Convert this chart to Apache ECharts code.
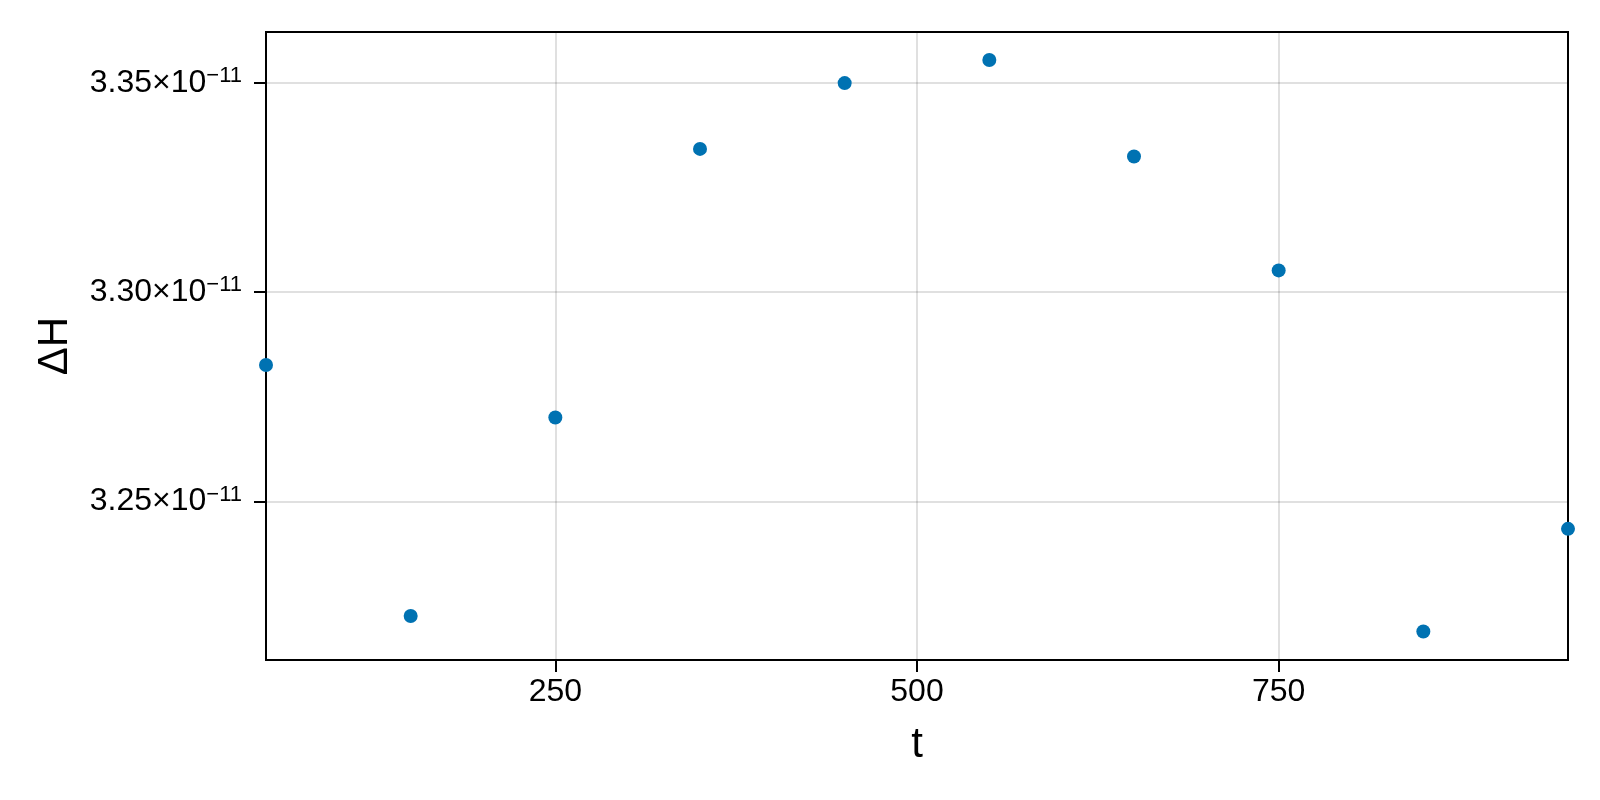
<!DOCTYPE html>
<html>
<head>
<meta charset="utf-8">
<title>ΔH vs t</title>
<script src="https://cdn.jsdelivr.net/npm/echarts@6/dist/echarts.min.js"></script>
<style>
  html, body { margin: 0; padding: 0; background: #fff; }
  #main { width: 1600px; height: 800px; }
</style>
</head>
<body>
<div id="main"></div>
<script>
// values, ΔH in units of 1e-11
var tValues = [50, 150, 250, 350, 450, 550, 650, 750, 850, 950];
var dHValues = [3.2826, 3.2227, 3.2701, 3.3342, 3.3499, 3.3554, 3.3324, 3.3052, 3.2190, 3.2435];
var xTicks = [250, 500, 750];
var yTicks = [3.25, 3.30, 3.35];
var yExponent = '\u221211';

var points = [];
for (var i = 0; i < tValues.length; i++) {
  points.push([tValues[i], dHValues[i]]);
}

var FONT = '"Liberation Sans", Arial, sans-serif';
var myChart = echarts.init(document.getElementById('main'));

var option = {
  animation: false,
  backgroundColor: '#ffffff',
  grid: {
    left: 266,
    right: 32,
    top: 32,
    bottom: 140,
    show: true,
    borderColor: '#000',
    borderWidth: 2,
    backgroundColor: 'transparent'
  },
  xAxis: {
    type: 'value',
    min: 50,
    max: 950,
    name: 't',
    nameLocation: 'middle',
    nameGap: 64,
    nameTextStyle: { fontFamily: FONT, fontSize: 42, color: '#000' },
    axisLine: { show: true, lineStyle: { color: '#000', width: 2 } },
    axisTick: {
      show: true,
      inside: false,
      length: 12,
      customValues: xTicks,
      lineStyle: { color: '#000', width: 2 }
    },
    axisLabel: {
      customValues: xTicks,
      margin: 16,
      fontFamily: FONT, fontSize: 32, color: '#000'
    },
    splitLine: {
      show: true,
      customValues: xTicks,
      lineStyle: { color: 'rgba(0,0,0,0.12)', width: 2 }
    }
  },
  yAxis: {
    type: 'value',
    min: 3.2122,
    max: 3.3621,
    name: '\u0394H',
    nameLocation: 'middle',
    nameGap: 190,
    nameTextStyle: { fontFamily: FONT, fontSize: 42, color: '#000' },
    axisLine: { show: true, lineStyle: { color: '#000', width: 2 } },
    axisTick: {
      show: true,
      inside: false,
      length: 12,
      customValues: yTicks,
      lineStyle: { color: '#000', width: 2 }
    },
    axisLabel: {
      customValues: yTicks,
      margin: 24,
      formatter: function (v) {
        return '{a|' + v.toFixed(2) + '\u00d710}{b|' + yExponent + '}';
      },
      rich: {
        a: { fontFamily: FONT, fontSize: 32, color: '#000', lineHeight: 36 },
        b: { fontFamily: FONT, fontSize: 22, color: '#000', lineHeight: 22, verticalAlign: 'top' }
      }
    },
    splitLine: {
      show: true,
      customValues: yTicks,
      lineStyle: { color: 'rgba(0,0,0,0.12)', width: 2 }
    }
  },
  series: [
    {
      name: '\u0394H',
      type: 'scatter',
      data: points,
      symbol: 'circle',
      symbolSize: 14,
      itemStyle: { color: '#0072b2', opacity: 1 },
      clip: false
    }
  ]
};

myChart.setOption(option);
window.onresize = myChart.resize;
</script>
</body>
</html>
